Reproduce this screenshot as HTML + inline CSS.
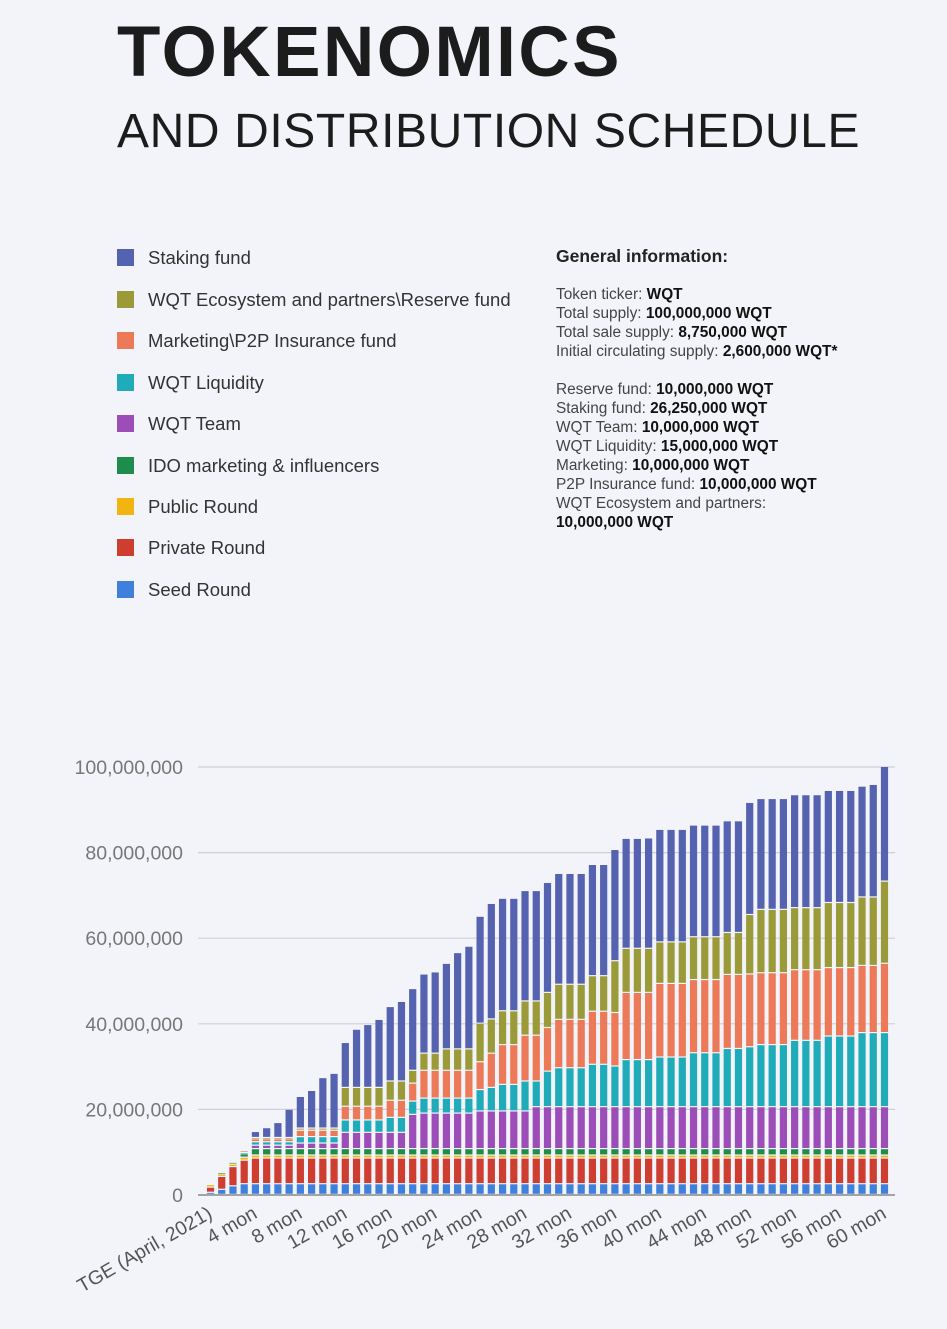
<!DOCTYPE html>
<html><head><meta charset="utf-8">
<style>
body{margin:0;background:#f3f4f9;font-family:"Liberation Sans",sans-serif;}
#wrap{position:relative;width:947px;height:1329px;overflow:hidden;background:#f3f4f9;}
.t1{position:absolute;left:117px;top:12px;font-size:71px;font-weight:bold;color:#1c1c1c;letter-spacing:2.5px;}
.t2{position:absolute;left:117px;top:104px;font-size:48px;color:#1c1c1c;letter-spacing:0.6px;}
.lg{position:absolute;left:117px;font-size:18.5px;color:#333;}
.lg span.sw{position:absolute;left:0;top:1px;width:17px;height:17px;}
.lg span.tx{position:absolute;left:31px;top:-1px;white-space:nowrap;}
.gi{position:absolute;left:556px;font-size:15.4px;color:#444;white-space:nowrap;}
.gi b{color:#111;}
</style></head><body>
<div id="wrap">
<div class="t1">TOKENOMICS</div>
<div class="t2">AND DISTRIBUTION SCHEDULE</div>

<div class="lg" style="top:248px"><span class="sw" style="background:#5562b0"></span><span class="tx">Staking fund</span></div>
<div class="lg" style="top:290px"><span class="sw" style="background:#9a9a38"></span><span class="tx">WQT Ecosystem and partners\Reserve fund</span></div>
<div class="lg" style="top:331px"><span class="sw" style="background:#ec7a58"></span><span class="tx">Marketing\P2P Insurance fund</span></div>
<div class="lg" style="top:373px"><span class="sw" style="background:#1fabb8"></span><span class="tx">WQT Liquidity</span></div>
<div class="lg" style="top:414px"><span class="sw" style="background:#9c4db8"></span><span class="tx">WQT Team</span></div>
<div class="lg" style="top:456px"><span class="sw" style="background:#1e8c4c"></span><span class="tx">IDO marketing &amp; influencers</span></div>
<div class="lg" style="top:497px"><span class="sw" style="background:#f2b411"></span><span class="tx">Public Round</span></div>
<div class="lg" style="top:538px"><span class="sw" style="background:#cd3e31"></span><span class="tx">Private Round</span></div>
<div class="lg" style="top:580px"><span class="sw" style="background:#3f80dc"></span><span class="tx">Seed Round</span></div>

<div class="gi" style="top:246px;font-size:17.5px;font-weight:bold;color:#222">General information:</div>
<div class="gi" style="top:286px">Token ticker: <b>WQT</b></div>
<div class="gi" style="top:305px">Total supply: <b>100,000,000 WQT</b></div>
<div class="gi" style="top:324px">Total sale supply: <b>8,750,000 WQT</b></div>
<div class="gi" style="top:343px">Initial circulating supply: <b>2,600,000 WQT*</b></div>
<div class="gi" style="top:381px">Reserve fund: <b>10,000,000 WQT</b></div>
<div class="gi" style="top:400px">Staking fund: <b>26,250,000 WQT</b></div>
<div class="gi" style="top:419px">WQT Team: <b>10,000,000 WQT</b></div>
<div class="gi" style="top:438px">WQT Liquidity: <b>15,000,000 WQT</b></div>
<div class="gi" style="top:457px">Marketing: <b>10,000,000 WQT</b></div>
<div class="gi" style="top:476px">P2P Insurance fund: <b>10,000,000 WQT</b></div>
<div class="gi" style="top:495px">WQT Ecosystem and partners:</div>
<div class="gi" style="top:514px"><b>10,000,000 WQT</b></div>

<svg id="chart" width="947" height="1329" style="position:absolute;left:0;top:0"></svg>
</div>
<script>
const months = Array.from({length:61},(_,i)=>i);
const yTicks = [0,20,40,60,80,100];
const yTickLabels = ["0","20,000,000","40,000,000","60,000,000","80,000,000","100,000,000"];
const xTickMonths = [0,4,8,12,16,20,24,28,32,36,40,44,48,52,56,60];
const xTickLabels = ["TGE (April, 2021)","4 mon","8 mon","12 mon","16 mon","20 mon","24 mon","28 mon","32 mon","36 mon","40 mon","44 mon","48 mon","52 mon","56 mon","60 mon"];
const seedVals = [0.5,1.2,2,2.5,2.5,2.5,2.5,2.5,2.5,2.5,2.5,2.5,2.5,2.5,2.5,2.5,2.5,2.5,2.5,2.5,2.5,2.5,2.5,2.5,2.5,2.5,2.5,2.5,2.5,2.5,2.5,2.5,2.5,2.5,2.5,2.5,2.5,2.5,2.5,2.5,2.5,2.5,2.5,2.5,2.5,2.5,2.5,2.5,2.5,2.5,2.5,2.5,2.5,2.5,2.5,2.5,2.5,2.5,2.5,2.5,2.5];
const privateVals = [1.2,3,4.5,5.5,6,6,6,6,6,6,6,6,6,6,6,6,6,6,6,6,6,6,6,6,6,6,6,6,6,6,6,6,6,6,6,6,6,6,6,6,6,6,6,6,6,6,6,6,6,6,6,6,6,6,6,6,6,6,6,6,6];
const publicVals = [0.6,0.6,0.6,0.7,0.7,0.7,0.7,0.7,0.7,0.7,0.7,0.7,0.7,0.7,0.7,0.7,0.7,0.7,0.7,0.7,0.7,0.7,0.7,0.7,0.7,0.7,0.7,0.7,0.7,0.7,0.7,0.7,0.7,0.7,0.7,0.7,0.7,0.7,0.7,0.7,0.7,0.7,0.7,0.7,0.7,0.7,0.7,0.7,0.7,0.7,0.7,0.7,0.7,0.7,0.7,0.7,0.7,0.7,0.7,0.7,0.7];
const idoVals = [0,0.3,0.4,0.8,1.5,1.5,1.5,1.5,1.5,1.5,1.5,1.5,1.5,1.5,1.5,1.5,1.5,1.5,1.5,1.5,1.5,1.5,1.5,1.5,1.5,1.5,1.5,1.5,1.5,1.5,1.5,1.5,1.5,1.5,1.5,1.5,1.5,1.5,1.5,1.5,1.5,1.5,1.5,1.5,1.5,1.5,1.5,1.5,1.5,1.5,1.5,1.5,1.5,1.5,1.5,1.5,1.5,1.5,1.5,1.5,1.5];
const teamVals = [0,0,0,0,0.8,0.8,0.8,0.8,1.3,1.3,1.3,1.3,3.8,3.8,3.8,3.8,3.8,3.8,8,8.3,8.3,8.3,8.3,8.3,8.8,8.8,8.8,8.8,8.8,9.8,9.8,9.8,9.8,9.8,9.8,9.8,9.8,9.8,9.8,9.8,9.8,9.8,9.8,9.8,9.8,9.8,9.8,9.8,9.8,9.8,9.8,9.8,9.8,9.8,9.8,9.8,9.8,9.8,9.8,9.8,9.8];
const liquidityVals = [0,0,0,0.3,0.8,0.8,0.8,0.8,1.5,1.5,1.5,1.5,2.9,2.9,2.9,2.9,3.5,3.5,3.1,3.5,3.5,3.5,3.5,3.5,5,5.5,6.2,6.2,7,6,8.3,9.1,9.1,9.1,9.9,9.9,9.5,11,11,11,11.6,11.6,11.6,12.6,12.6,12.6,13.6,13.6,14,14.5,14.5,14.5,15.5,15.5,15.5,16.5,16.5,16.5,17.3,17.3,17.3];
const marketingVals = [0,0,0,0.4,0.7,0.7,0.7,0.7,1.5,1.5,1.5,1.5,3.2,3.2,3.2,3.2,4,4,4.2,6.5,6.5,6.5,6.5,6.5,6.5,8,9.3,9.3,10.7,10.7,10.2,11.3,11.3,11.3,12.4,12.4,12.5,15.7,15.7,15.7,17.2,17.2,17.2,17.1,17.1,17.1,17.3,17.3,17,16.8,16.8,16.8,16.5,16.5,16.5,16,16,16,15.7,15.7,16.2];
const ecosystemVals = [0,0,0,0,0.3,0.3,0.3,0.3,0.5,0.5,0.5,0.5,4.4,4.4,4.4,4.4,4.5,4.5,3,4,4,5,5,5,9,8,7.9,7.9,8,8,8.2,8.2,8.2,8.2,8.3,8.3,12.1,10.3,10.3,10.3,9.7,9.7,9.7,10,10,10,9.8,9.8,13.9,14.8,14.8,14.8,14.5,14.5,14.5,15.2,15.2,15.2,16,16,19.2];
const stakingVals = [0,0,0,0,1.4,2.3,3.5,6.6,7.4,8.8,11.8,12.8,10.5,13.6,14.7,15.9,17.4,18.6,19.1,18.5,19,20,22.5,24,25,27,26.3,26.3,25.8,25.8,25.7,25.9,25.9,25.9,26,26,26,25.7,25.7,25.8,26.3,26.3,26.3,26.1,26.1,26.1,26.1,26.1,26.2,25.9,25.9,25.9,26.4,26.4,26.4,26.2,26.2,26.2,25.9,26.3,26.8];

const seriesNames = ["seed","private","public","ido","team","liquidity","marketing","ecosystem","staking"];
const seriesData = [seedVals,privateVals,publicVals,idoVals,teamVals,liquidityVals,marketingVals,ecosystemVals,stakingVals];
const seriesColors = ["#3f80dc","#cd3e31","#f2b411","#1e8c4c","#9c4db8","#1fabb8","#ec7a58","#9a9a38","#5562b0"];

const svg = document.getElementById('chart');
const NS = 'http://www.w3.org/2000/svg';
const y0 = 1195, yTop = 767, x0 = 210.5, x60 = 884.5;
function yScale(v){ return y0 - (v/100)*(y0-yTop); }
function xScale(m){ return x0 + (m/60)*(x60-x0); }
function mk(tag, attrs){ const e=document.createElementNS(NS,tag); for(const k in attrs) e.setAttribute(k,attrs[k]); svg.appendChild(e); return e; }

yTicks.forEach((t,i)=>{
  const y = yScale(t);
  const g = mk('line',{x1:198,x2:895,y1:y,y2:y,stroke:i===0?'#888':'#cfcfd6','stroke-width':i===0?1.5:1.2});
  
  
  const tx = mk('text',{x:183,y:y+7,'text-anchor':'end','font-size':19.5,fill:'#777','font-family':'Liberation Sans, sans-serif'});
  tx.textContent = yTickLabels[i];
  
  
});

months.forEach(m=>{
  let acc = 0;
  const cx = xScale(m);
  seriesData.forEach((arr,si)=>{
    const v = arr[m];
    if(v<=0) return;
    const yb = yScale(acc), yt = yScale(acc+v);
    acc += v;
    const h = Math.max(yb-yt-1.2,0.6);
    const r = mk('rect',{x:cx-3.6,y:yt,width:7.2,height:h,fill:seriesColors[si]});
    
    
  });
});

xTickMonths.forEach((m,i)=>{
  const x = xScale(m)+3, y = 1217;
  const t = mk('text',{x:x,y:y,'text-anchor':'end','font-size':19.5,fill:'#555','font-family':'Liberation Sans, sans-serif',transform:'rotate(-30 '+x+' '+y+')'});
  t.textContent = xTickLabels[i];
  
  
});
</script>
</body></html>
